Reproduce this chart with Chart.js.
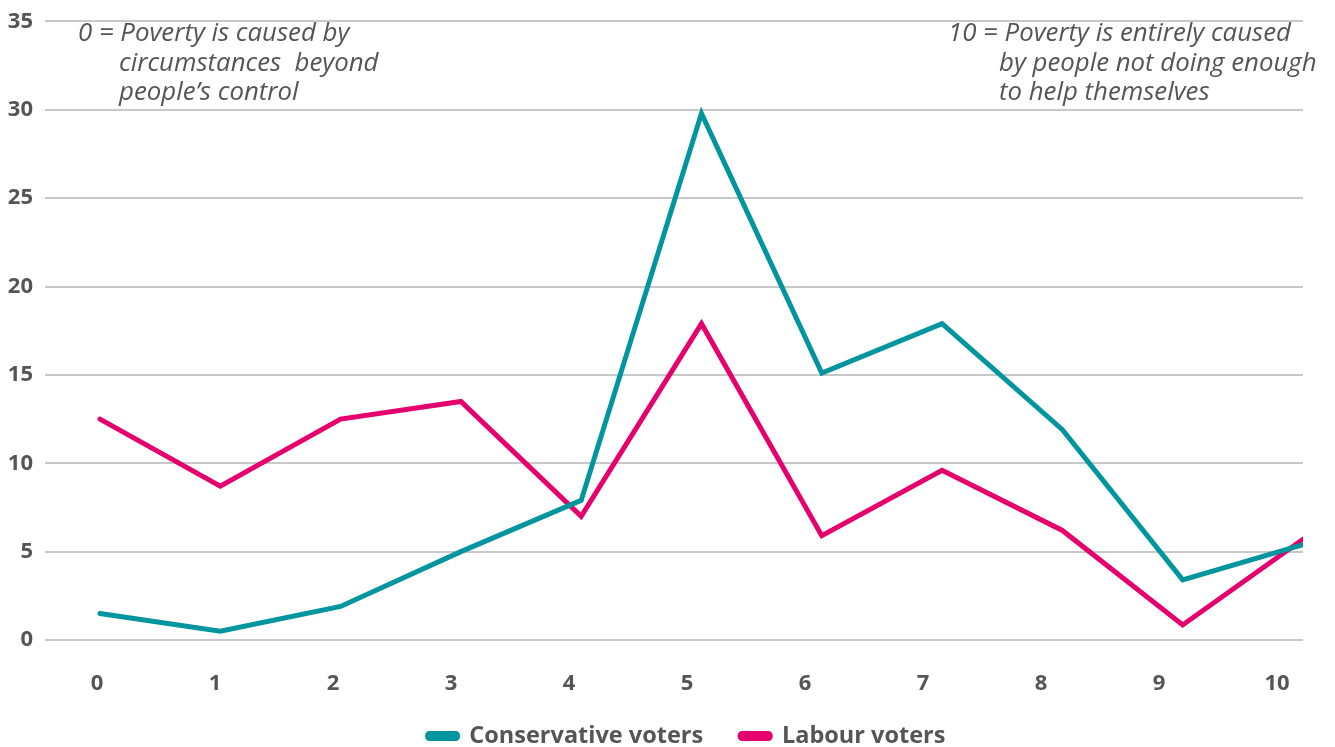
<!DOCTYPE html>
<html>
<head>
<meta charset="utf-8">
<script src="https://cdn.jsdelivr.net/npm/chart.js@4/dist/chart.umd.min.js"></script>
<style>
  html, body { margin: 0; padding: 0; background: #fff; }
  #wrap { width: 1335px; height: 747px; }
</style>
</head>
<body>
<div id="wrap"><canvas id="povertyChart"></canvas></div>
<script>
// scale 0-10, share of voters (%)
var scalePoints = [0, 1, 2, 3, 4, 5, 6, 7, 8, 9, 10];
var conservative = [1.5, 0.5, 1.9, 5.0, 7.9, 29.8, 15.1, 17.9, 11.9, 3.4, 5.4];
var labour = [12.5, 8.7, 12.5, 13.5, 7.0, 17.9, 5.9, 9.6, 6.2, 0.85, 5.7];
var yTicks = [0, 5, 10, 15, 20, 25, 30, 35];

var leftNote = ["0 = Poverty is caused by", "circumstances  beyond", "people\u2019s control"];
var rightNote = ["10 = Poverty is entirely caused", "by people not doing enough", "to help themselves"];

var TEAL = "#00959f";
var PINK = "#e5006d";
var GREY = "#555555";

var LEGEND_FONT = 23.5;
var LEGEND_PAD = 37;

// the two scale notes at the top of the plot
var notesPlugin = {
  id: "notes",
  afterDraw: function(chart) {
    var ctx = chart.ctx;
    ctx.save();
    ctx.fillStyle = GREY;
    ctx.font = "italic 25.8px 'Open Sans'";
    ctx.textBaseline = "middle";
    var lh = 29.5;
    ctx.fillText(leftNote[0], 78, 34);
    ctx.fillText(leftNote[1], 119, 34 + lh);
    ctx.fillText(leftNote[2], 119, 34 + lh * 2);
    ctx.fillText(rightNote[0], 948, 34);
    ctx.fillText(rightNote[1], 999, 34 + lh);
    ctx.fillText(rightNote[2], 999, 34 + lh * 2);
    ctx.restore();
  }
};

// fixed legend height so the plot keeps its size, then nudge the legend
var legendPlace = {
  id: "legendPlace",
  afterInit: function(chart) {
    var leg = chart.legend;
    var fit = leg.fit;
    leg.fit = function() {
      fit.call(this);
      this.height = 45;
    };
  },
  afterLayout: function(chart) {
    var leg = chart.legend;
    leg.top = 736 - LEGEND_PAD - LEGEND_FONT / 2;
    leg.bottom = 747;
    leg.height = leg.bottom - leg.top;
    leg.left += 35;
    leg.right += 35;
    var xs = chart.scales.xLabels;
    xs.bottom = 720;
    xs.height = xs.bottom - xs.top;
  }
};

var data = {
  datasets: [
    {
      label: "Conservative voters",
      data: scalePoints.map(function(x, i) { return { x: x, y: conservative[i] }; }),
      borderColor: TEAL,
      backgroundColor: TEAL
    },
    {
      label: "Labour voters",
      data: scalePoints.map(function(x, i) { return { x: x, y: labour[i] }; }),
      borderColor: PINK,
      backgroundColor: PINK
    }
  ]
};

var config = {
  type: "line",
  data: data,
  options: {
    responsive: true,
    maintainAspectRatio: false,
    animation: false,
    layout: { padding: { left: 0, right: 32, top: 12, bottom: 2 } },
    elements: {
      line: { borderWidth: 5, tension: 0, borderCapStyle: "round", borderJoinStyle: "miter" },
      point: { radius: 0, hoverRadius: 0 }
    },
    scales: {
      x: {
        type: "linear",
        min: -0.457,
        max: 10,
        display: false
      },
      xLabels: {
        type: "linear",
        position: "bottom",
        min: -0.44,
        max: 10.22,
        afterBuildTicks: function(scale) {
          scale.ticks = scalePoints.map(function(v) { return { value: v }; });
        },
        afterFit: function(scale) { scale.height = 60; },
        grid: { display: false, drawTicks: false },
        border: { display: false },
        ticks: {
          color: GREY,
          padding: 31,
          autoSkip: false,
          maxRotation: 0,
          font: { family: "'Open Sans'", size: 22, weight: "bold" }
        }
      },
      y: {
        min: 0,
        max: 35,
        afterBuildTicks: function(scale) {
          scale.ticks = yTicks.map(function(v) { return { value: v }; });
        },
        afterFit: function(scale) { scale.width = 45; },
        grid: { color: "#c8c8c8", lineWidth: 2, drawTicks: false },
        border: { display: false },
        ticks: {
          color: GREY,
          padding: 12,
          font: { family: "'Open Sans'", size: 22, weight: "bold", lineHeight: 0.86 }
        }
      }
    },
    plugins: {
      legend: {
        position: "bottom",
        labels: {
          color: GREY,
          boxWidth: 30,
          boxHeight: 5,
          padding: LEGEND_PAD,
          useBorderRadius: true,
          borderRadius: 2,
          font: { family: "'Open Sans'", size: LEGEND_FONT, weight: "bold" }
        }
      },
      tooltip: { enabled: false }
    }
  },
  plugins: [notesPlugin, legendPlace]
};

var myChart = new Chart(document.getElementById("povertyChart"), config);
</script>
</body>
</html>
